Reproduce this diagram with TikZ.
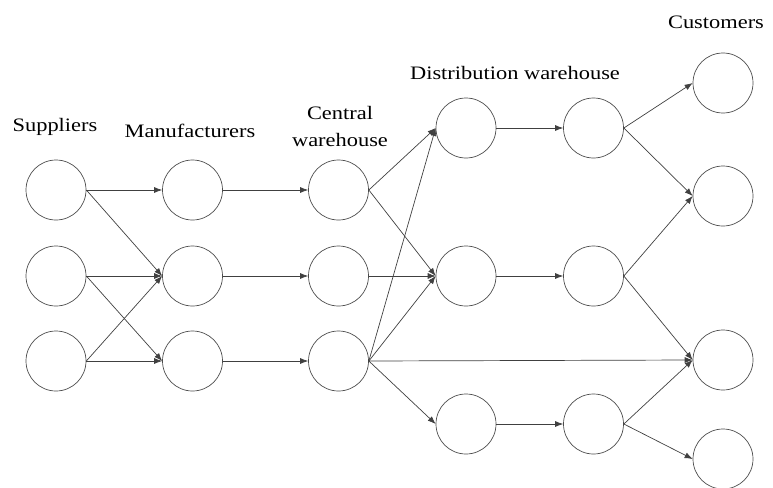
\documentclass[tikz,border=0pt]{standalone}
\usepackage{fontspec}
\setmainfont{Liberation Serif}[FakeStretch=1.18]
\usetikzlibrary{arrows.meta}
\tikzset{
  site/.style={circle, draw=black!70, line width=0.7pt, minimum size=60pt, inner sep=0pt},
  flow/.style={draw=black!75, line width=0.7pt, -{Latex[length=8pt,width=6pt]}},
  caption/.style={font=\fontsize{19pt}{27pt}\selectfont, align=center, inner sep=0pt}
}
\begin{document}
\begin{tikzpicture}[x=1pt,y=-1pt]
  \useasboundingbox (0,0) rectangle (773,487);

  % suppliers
  \node[site] (s1) at (56,190) {};
  \node[site] (s2) at (56,276) {};
  \node[site] (s3) at (56,361) {};
  % manufacturers
  \node[site] (m1) at (192.5,190) {};
  \node[site] (m2) at (192.5,276) {};
  \node[site] (m3) at (192.5,361) {};
  % central warehouses
  \node[site] (c1) at (338.5,190) {};
  \node[site] (c2) at (338.5,276) {};
  \node[site] (c3) at (338.5,361) {};
  % distribution warehouses, first and second stage
  \node[site] (d1) at (466,128) {};
  \node[site] (d2) at (466,276) {};
  \node[site] (d3) at (466,424) {};
  \node[site] (e1) at (593.5,128) {};
  \node[site] (e2) at (593.5,276) {};
  \node[site] (e3) at (593.5,424) {};
  % customers
  \node[site] (k1) at (723,83) {};
  \node[site] (k2) at (723,196) {};
  \node[site] (k3) at (723,360) {};
  \node[site] (k4) at (723,459) {};

  % column headings
  \node[caption] (tsup) at (55,127) {Suppliers};
  \node[caption] (tman) at (190,131) {Manufacturers};
  \node[caption] (tcen) at (340,127) {Central\\warehouse};
  \node[caption] (tdis) at (515,73) {Distribution warehouse};
  \node[caption] (tcus) at (716,22) {Customers};

  % suppliers to manufacturers
  \draw[flow] (s1.east) -- (m1.west);
  \draw[flow] (s1.east) -- (m2.west);
  \draw[flow] (s2.east) -- (m2.west);
  \draw[flow] (s2.east) -- (m3.west);
  \draw[flow] (s3.east) -- (m2.west);
  \draw[flow] (s3.east) -- (m3.west);
  % manufacturers to central warehouses
  \draw[flow] (m1.east) -- (c1.west);
  \draw[flow] (m2.east) -- (c2.west);
  \draw[flow] (m3.east) -- (c3.west);
  % central warehouses onwards
  \draw[flow] (c1.east) -- (d1.west);
  \draw[flow] (c1.east) -- (d2.west);
  \draw[flow] (c2.east) -- (d2.west);
  \draw[flow] (c3.east) -- (d1.west);
  \draw[flow] (c3.east) -- (d2.west);
  \draw[flow] (c3.east) -- (k3.west);
  \draw[flow] (c3.east) -- (d3.west);
  % between distribution stages
  \draw[flow] (d1.east) -- (e1.west);
  \draw[flow] (d2.east) -- (e2.west);
  \draw[flow] (d3.east) -- (e3.west);
  % to customers
  \draw[flow] (e1.east) -- (k1.west);
  \draw[flow] (e1.east) -- (k2.west);
  \draw[flow] (e2.east) -- (k2.west);
  \draw[flow] (e2.east) -- (k3.west);
  \draw[flow] (e3.east) -- (k3.west);
  \draw[flow] (e3.east) -- (k4.west);
\end{tikzpicture}
\end{document}
